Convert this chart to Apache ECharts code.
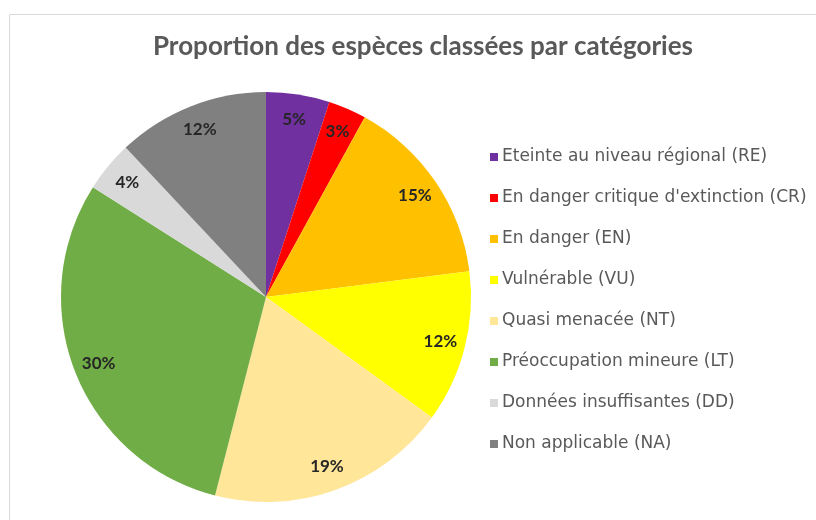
<!DOCTYPE html>
<html>
<head>
<meta charset="utf-8">
<script src="https://cdn.jsdelivr.net/npm/echarts@6/dist/echarts.min.js"></script>
<style>
  html, body { margin: 0; padding: 0; background: #fff; }
  #chart { width: 816px; height: 520px; }
</style>
</head>
<body>
<div id="chart"></div>
<script>
// catégories et pourcentages
const categories = [
  'Eteinte au niveau régional (RE)',
  'En danger critique d\'extinction (CR)',
  'En danger (EN)',
  'Vulnérable (VU)',
  'Quasi menacée (NT)',
  'Préoccupation mineure (LT)',
  'Données insuffisantes (DD)',
  'Non applicable (NA)',
];
const values = [5, 3, 15, 12, 19, 30, 4, 12];
const colors = ['#7030A0', '#FF0000', '#FFC000', '#FFFF00', '#FFE699', '#70AD47', '#D9D9D9', '#808080'];

const center = [266, 297];
const radius = 205;
const labelRadius = 180;

const total = values.reduce((a, b) => a + b, 0);
// angle du milieu de chaque part (sens horaire depuis le haut)
const midAngles = [];
let acc = 0;
values.forEach((v) => {
  midAngles.push(((acc + v / 2) / total) * Math.PI * 2);
  acc += v;
});

const chart = echarts.init(document.getElementById('chart'));
const option = {
  animation: false,
  color: colors,
  graphic: [
    {
      type: 'rect',
      shape: { x: 9.5, y: 14.5, width: 830, height: 520 },
      style: { fill: 'none', stroke: '#d9d9d9', lineWidth: 1 },
      silent: true,
    },
  ],
  title: {
    text: 'Proportion des espèces classées par catégories',
    left: 418,
    textAlign: 'center',
    top: 29,
    textStyle: {
      fontFamily: 'Lato',
      fontWeight: 'bold',
      fontSize: 26,
      color: '#595959',
    },
  },
  legend: {
    orient: 'vertical',
    left: 490,
    top: 148,
    padding: 0,
    icon: 'rect',
    itemWidth: 8,
    itemHeight: 8,
    itemGap: 23,
    data: categories,
    textStyle: {
      fontFamily: 'DejaVu Sans',
      fontSize: 17,
      lineHeight: 18,
      padding: [0, 0, 0, -1],
      color: '#595959',
    },
  },
  series: [
    {
      type: 'pie',
      center: center,
      radius: [0, radius],
      startAngle: 90,
      clockwise: true,
      silent: true,
      data: categories.map((name, i) => ({ name, value: values[i] })),
      label: {
        show: true,
        position: 'inside',
        formatter: '{c}%',
        fontFamily: 'Lato',
        fontWeight: 'bold',
        fontSize: 17,
        color: '#262626',
      },
      labelLayout(params) {
        const a = midAngles[params.dataIndex];
        return {
          x: center[0] + labelRadius * Math.sin(a),
          y: center[1] - labelRadius * Math.cos(a),
          align: 'center',
          verticalAlign: 'middle',
        };
      },
      labelLine: { show: false },
    },
  ],
};
chart.setOption(option);
</script>
</body>
</html>
